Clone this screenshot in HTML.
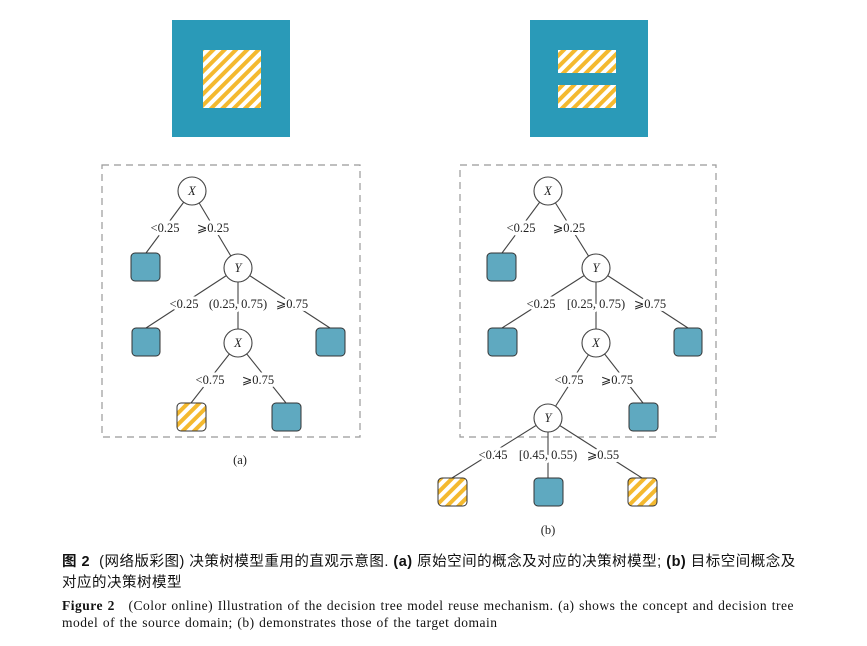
<!DOCTYPE html>
<html><head><meta charset="utf-8"><style>
body{margin:0;background:#fff;width:867px;height:646px;overflow:hidden}
svg{position:absolute;left:0;top:0}
.t{font-family:"Liberation Serif",serif;font-size:12.5px;fill:#222}
.c{position:absolute;left:62px;font-family:"Liberation Serif","Noto Serif CJK SC",serif;color:#111;white-space:nowrap}
</style></head><body>
<svg width="867" height="646" viewBox="0 0 867 646">
<defs>
<pattern id="h" width="8" height="8" patternUnits="userSpaceOnUse" patternTransform="rotate(45)">
<rect width="8" height="8" fill="#fff"/><rect width="4" height="8" fill="#f4b92f"/></pattern>
</defs>
<rect x="172" y="20" width="118" height="117" fill="#2a9ab8"/>
<rect x="203" y="50" width="58" height="58" fill="url(#h)"/>
<rect x="530" y="20" width="118" height="117" fill="#2a9ab8"/>
<rect x="558" y="50" width="58" height="23" fill="url(#h)"/>
<rect x="558" y="85" width="58" height="23" fill="url(#h)"/>
<g fill="none" stroke="#999" stroke-dasharray="7,5" stroke-width="1.2">
<rect x="102" y="165" width="258" height="272"/>
<rect x="460" y="165" width="256" height="272"/>
</g>
<g stroke="#444" stroke-width="1.1">
<line x1="192" y1="191" x2="146" y2="253"/><line x1="192" y1="191" x2="238" y2="268"/>
<line x1="238" y1="268" x2="146" y2="328"/><line x1="238" y1="268" x2="238" y2="343"/><line x1="238" y1="268" x2="330" y2="328"/>
<line x1="238" y1="343" x2="191" y2="403"/><line x1="238" y1="343" x2="286" y2="403"/>
<line x1="548" y1="191" x2="502" y2="253"/><line x1="548" y1="191" x2="596" y2="268"/>
<line x1="596" y1="268" x2="502" y2="328"/><line x1="596" y1="268" x2="596" y2="343"/><line x1="596" y1="268" x2="688" y2="328"/>
<line x1="596" y1="343" x2="548" y2="418"/><line x1="596" y1="343" x2="643" y2="403"/>
<line x1="548" y1="418" x2="452" y2="478"/><line x1="548" y1="418" x2="548" y2="478"/><line x1="548" y1="418" x2="642" y2="478"/>
</g>
<g class="t" text-anchor="middle" style="paint-order:stroke" stroke="#fff" stroke-width="6">
<text x="165" y="232">&lt;0.25</text><text x="213" y="232">⩾0.25</text>
<text x="184" y="308">&lt;0.25</text><text x="238" y="308">(0.25, 0.75)</text><text x="292" y="308">⩾0.75</text>
<text x="210" y="384">&lt;0.75</text><text x="258" y="384">⩾0.75</text>
<text x="521" y="232">&lt;0.25</text><text x="569" y="232">⩾0.25</text>
<text x="541" y="308">&lt;0.25</text><text x="596" y="308">[0.25, 0.75)</text><text x="650" y="308">⩾0.75</text>
<text x="569" y="384">&lt;0.75</text><text x="617" y="384">⩾0.75</text>
<text x="493" y="459">&lt;0.45</text><text x="548" y="459">[0.45, 0.55)</text><text x="603" y="459">⩾0.55</text>
</g>
<g fill="#fff" stroke="#444" stroke-width="1.1">
<circle cx="192" cy="191" r="14"/><circle cx="238" cy="268" r="14"/><circle cx="238" cy="343" r="14"/>
<circle cx="548" cy="191" r="14"/><circle cx="596" cy="268" r="14"/><circle cx="596" cy="343" r="14"/><circle cx="548" cy="418" r="14"/>
</g>
<g class="t" text-anchor="middle" font-style="italic" font-size="12">
<text x="192" y="195">X</text><text x="238" y="272">Y</text><text x="238" y="347">X</text>
<text x="548" y="195">X</text><text x="596" y="272">Y</text><text x="596" y="347">X</text><text x="548" y="422">Y</text>
</g>
<g stroke="#333" stroke-width="1" fill="#5fa9c0">
<rect x="131" y="253" width="29" height="28" rx="4"/>
<rect x="132" y="328" width="28" height="28" rx="4"/>
<rect x="316" y="328" width="29" height="28" rx="4"/>
<rect x="177" y="403" width="29" height="28" rx="4" fill="url(#h)"/>
<rect x="272" y="403" width="29" height="28" rx="4"/>
<rect x="487" y="253" width="29" height="28" rx="4"/>
<rect x="488" y="328" width="29" height="28" rx="4"/>
<rect x="674" y="328" width="28" height="28" rx="4"/>
<rect x="629" y="403" width="29" height="28" rx="4"/>
<rect x="438" y="478" width="29" height="28" rx="4" fill="url(#h)"/>
<rect x="534" y="478" width="29" height="28" rx="4"/>
<rect x="628" y="478" width="29" height="28" rx="4" fill="url(#h)"/>
</g>
<text class="t" x="240" y="464" text-anchor="middle" font-size="11">(a)</text>
<text class="t" x="548" y="534" text-anchor="middle" font-size="11">(b)</text>
</svg>
<div class="c" style="top:552px;font-size:14.5px;letter-spacing:0.5px;line-height:21px;font-family:'Liberation Sans','Noto Sans CJK SC',sans-serif"><b>图 2</b>&nbsp; (网络版彩图) 决策树模型重用的直观示意图. <b>(a)</b> 原始空间的概念及对应的决策树模型; <b>(b)</b> 目标空间概念及<br>对应的决策树模型</div>
<div class="c" style="top:597px;font-size:13.5px;letter-spacing:0.5px;word-spacing:0.7px;line-height:17px"><b>Figure 2</b>&nbsp;&nbsp; (Color online) Illustration of the decision tree model reuse mechanism. (a) shows the concept and decision tree<br>model of the source domain; (b) demonstrates those of the target domain</div>
</body></html>
